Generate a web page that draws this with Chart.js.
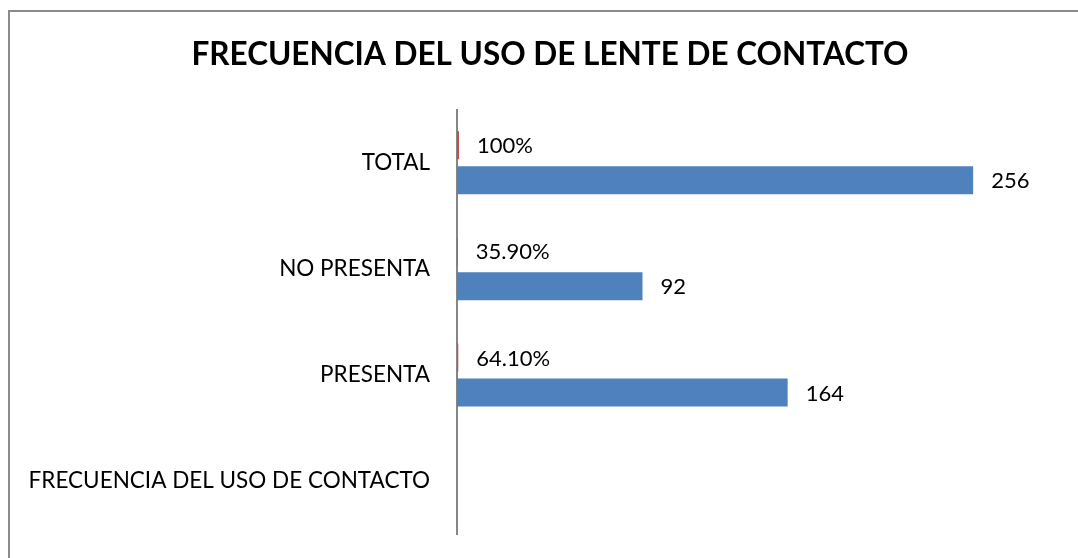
<!DOCTYPE html>
<html>
<head>
<meta charset="utf-8">
<script src="https://cdn.jsdelivr.net/npm/chart.js@4/dist/chart.umd.min.js"></script>
<style>
  html, body { margin: 0; padding: 0; background: #fff; overflow: hidden; }
  #wrap { position: relative; width: 1078px; height: 558px; overflow: hidden; }
  #frame { position: absolute; left: 8px; top: 10px; right: 0; bottom: 0;
           border-left: 2px solid #8a8a8a; border-top: 2px solid #8a8a8a; }
  #c { position: absolute; left: 0; top: 0; }
</style>
</head>
<body>
<div id="wrap">
  <div id="frame"></div>
  <canvas id="c" width="1078" height="558"></canvas>
</div>
<script>
const categories = ["TOTAL", "NO PRESENTA", "PRESENTA", "FRECUENCIA DEL USO DE CONTACTO"];
const percentValues = [1, 0.359, 0.641, null];
const percentLabels = ["100%", "35.90%", "64.10%", ""];
const countValues = [256, 92, 164, null];
const countLabels = ["256", "92", "164", ""];
const chartTitle = "FRECUENCIA DEL USO DE LENTE DE CONTACTO";

const FONT = "Lato, 'Open Sans', sans-serif";

const valueLabelPlugin = {
  id: 'valueLabels',
  afterDatasetsDraw(chart) {
    const ctx = chart.ctx;
    ctx.save();
    ctx.font = "22px " + FONT;
    ctx.fillStyle = "#000";
    ctx.textAlign = "left";
    ctx.textBaseline = "middle";
    chart.data.datasets.forEach((ds, di) => {
      const meta = chart.getDatasetMeta(di);
      meta.data.forEach((bar, i) => {
        const txt = ds.valueLabels[i];
        if (!txt || ds.data[i] == null) return;
        ctx.fillText(txt, bar.x + 18, bar.y + 1);
      });
    });
    ctx.restore();
  }
};

new Chart(document.getElementById('c'), {
  type: 'bar',
  data: {
    labels: categories,
    datasets: [
      { label: 'Porcentaje', data: percentValues, valueLabels: percentLabels,
        backgroundColor: '#C0504D', categoryPercentage: 0.66, barPercentage: 0.8 },
      { label: 'Frecuencia', data: countValues, valueLabels: countLabels,
        backgroundColor: '#4F81BD', categoryPercentage: 0.66, barPercentage: 0.8 }
    ]
  },
  options: {
    indexAxis: 'y',
    responsive: false,
    animation: false,
    devicePixelRatio: 1,
    layout: { padding: { left: 0, right: -22, top: 0, bottom: 24 } },
    plugins: {
      legend: { display: false },
      tooltip: { enabled: false },
      title: {
        display: true,
        text: chartTitle,
        color: '#000',
        font: { family: FONT, size: 31.5, weight: 'bold', lineHeight: 1.2 },
        padding: { top: 36, bottom: 36 }
      }
    },
    scales: {
      x: { display: false, min: 0, max: 308 },
      y: {
        z: 1,
        grid: { display: false, drawTicks: false },
        border: { display: true, color: '#868686', width: 2 },
        ticks: { color: '#000', font: { family: FONT, size: 22.5 }, padding: 27, crossAlign: 'near' },
        afterFit(scale) { scale.width = 457; scale.paddingTop = 0; scale.paddingBottom = 0; }
      }
    }
  },
  plugins: [valueLabelPlugin]
});
</script>
</body>
</html>
